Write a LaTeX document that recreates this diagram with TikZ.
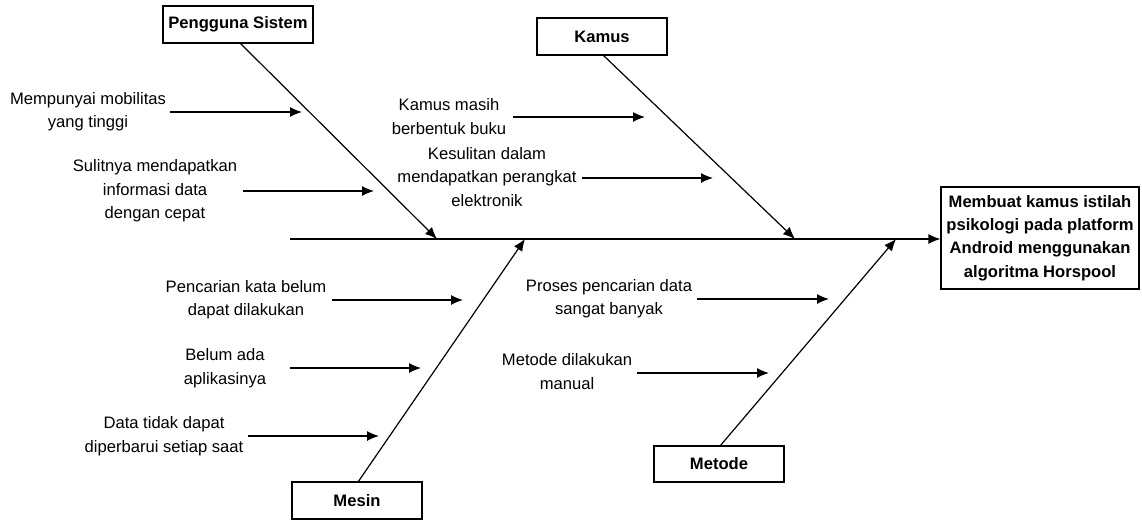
\documentclass[tikz,border=0pt]{standalone}
\usepackage{fontspec}
\setmainfont{Liberation Sans}
\usetikzlibrary{arrows.meta}
\begin{document}
\begin{tikzpicture}[x=1pt,y=-1pt,
  every node/.style={font=\fontsize{16.6}{23.4}\selectfont},
  catbox/.style={draw,line width=1.2pt,inner sep=0pt,font=\fontsize{16.6}{23.4}\selectfont\bfseries},
  effbox/.style={draw,line width=1.2pt,inner sep=0pt,align=center,minimum width=198pt,minimum height=102pt,font=\fontsize{16.6}{23.4}\selectfont\bfseries},
  cause/.style={align=center,inner sep=0pt},
  bone/.style={line width=1.2pt,-{Latex[length=12pt,width=10pt]}},
  arr/.style={line width=1.2pt,-{Latex[length=12pt,width=10pt]}}]
\useasboundingbox (0,0) rectangle (1142,520);
% category boxes
\node[catbox,minimum width=150pt,minimum height=37pt] (peng) at (238,24.5) {Pengguna Sistem};
\node[catbox,minimum width=130pt,minimum height=37pt] (kamus) at (602,36.5) {Kamus};
\node[catbox,minimum width=130pt,minimum height=37pt] (mesin) at (357,500.5) {Mesin};
\node[catbox,minimum width=130pt,minimum height=36pt] (metode) at (719,464) {Metode};
\node[effbox] (eff) at (1040,238) {Membuat kamus istilah\\psikologi pada platform\\Android menggunakan\\algoritma Horspool};
% spine
\coordinate (spst) at (290,239);
\draw[arr] (spst) -- (spst -| eff.west);
% bone endpoints on spine
\coordinate (bp) at (437,239);
\coordinate (bk) at (795,239);
\coordinate (bm) at (525,239);
\coordinate (bt) at (896,239);
\draw[bone] (240,43) coordinate (p0) -- (bp);
\draw[bone] (603,55) coordinate (k0) -- (bk);
\draw[bone] (358,482) coordinate (m0) -- (bm);
\draw[bone] (720,446) coordinate (t0) -- (bt);
% causes
\node[cause] (c1) at (88,112) {Mempunyai mobilitas\\yang tinggi};
\node[cause] (c2) at (155,191) {Sulitnya mendapatkan\\informasi data\\dengan cepat};
\node[cause] (c3) at (449,116.5) {Kamus masih\\berbentuk buku};
\node[cause] (c4) at (487,177) {Kesulitan dalam\\mendapatkan perangkat\\elektronik};
\node[cause] (c5) at (246,299.5) {Pencarian kata belum\\dapat dilakukan};
\node[cause] (c6) at (225,368) {Belum ada\\aplikasinya};
\node[cause] (c7) at (164,436) {Data tidak dapat\\diperbarui setiap saat};
\node[cause] (c8) at (609,299) {Proses pencarian data\\sangat banyak};
\node[cause] (c9) at (567,371.5) {Metode dilakukan\\manual};
% cause arrows
\coordinate (a1s) at (170,112); \coordinate (a1e) at (302,112);
\coordinate (a2s) at (243,191); \coordinate (a2e) at (374,191);
\coordinate (a3s) at (513,117); \coordinate (a3e) at (645,117);
\coordinate (a4s) at (582,178); \coordinate (a4e) at (713,178);
\coordinate (a5s) at (332,300); \coordinate (a5e) at (463,300);
\coordinate (a6s) at (290,368); \coordinate (a6e) at (421,368);
\coordinate (a7s) at (248,436); \coordinate (a7e) at (379,436);
\coordinate (a8s) at (697,299); \coordinate (a8e) at (829,299);
\coordinate (a9s) at (637,373); \coordinate (a9e) at (769,373);
\foreach \i in {1,...,9} { \draw[arr] (a\i s) -- (a\i e); }
\end{tikzpicture}
\end{document}
